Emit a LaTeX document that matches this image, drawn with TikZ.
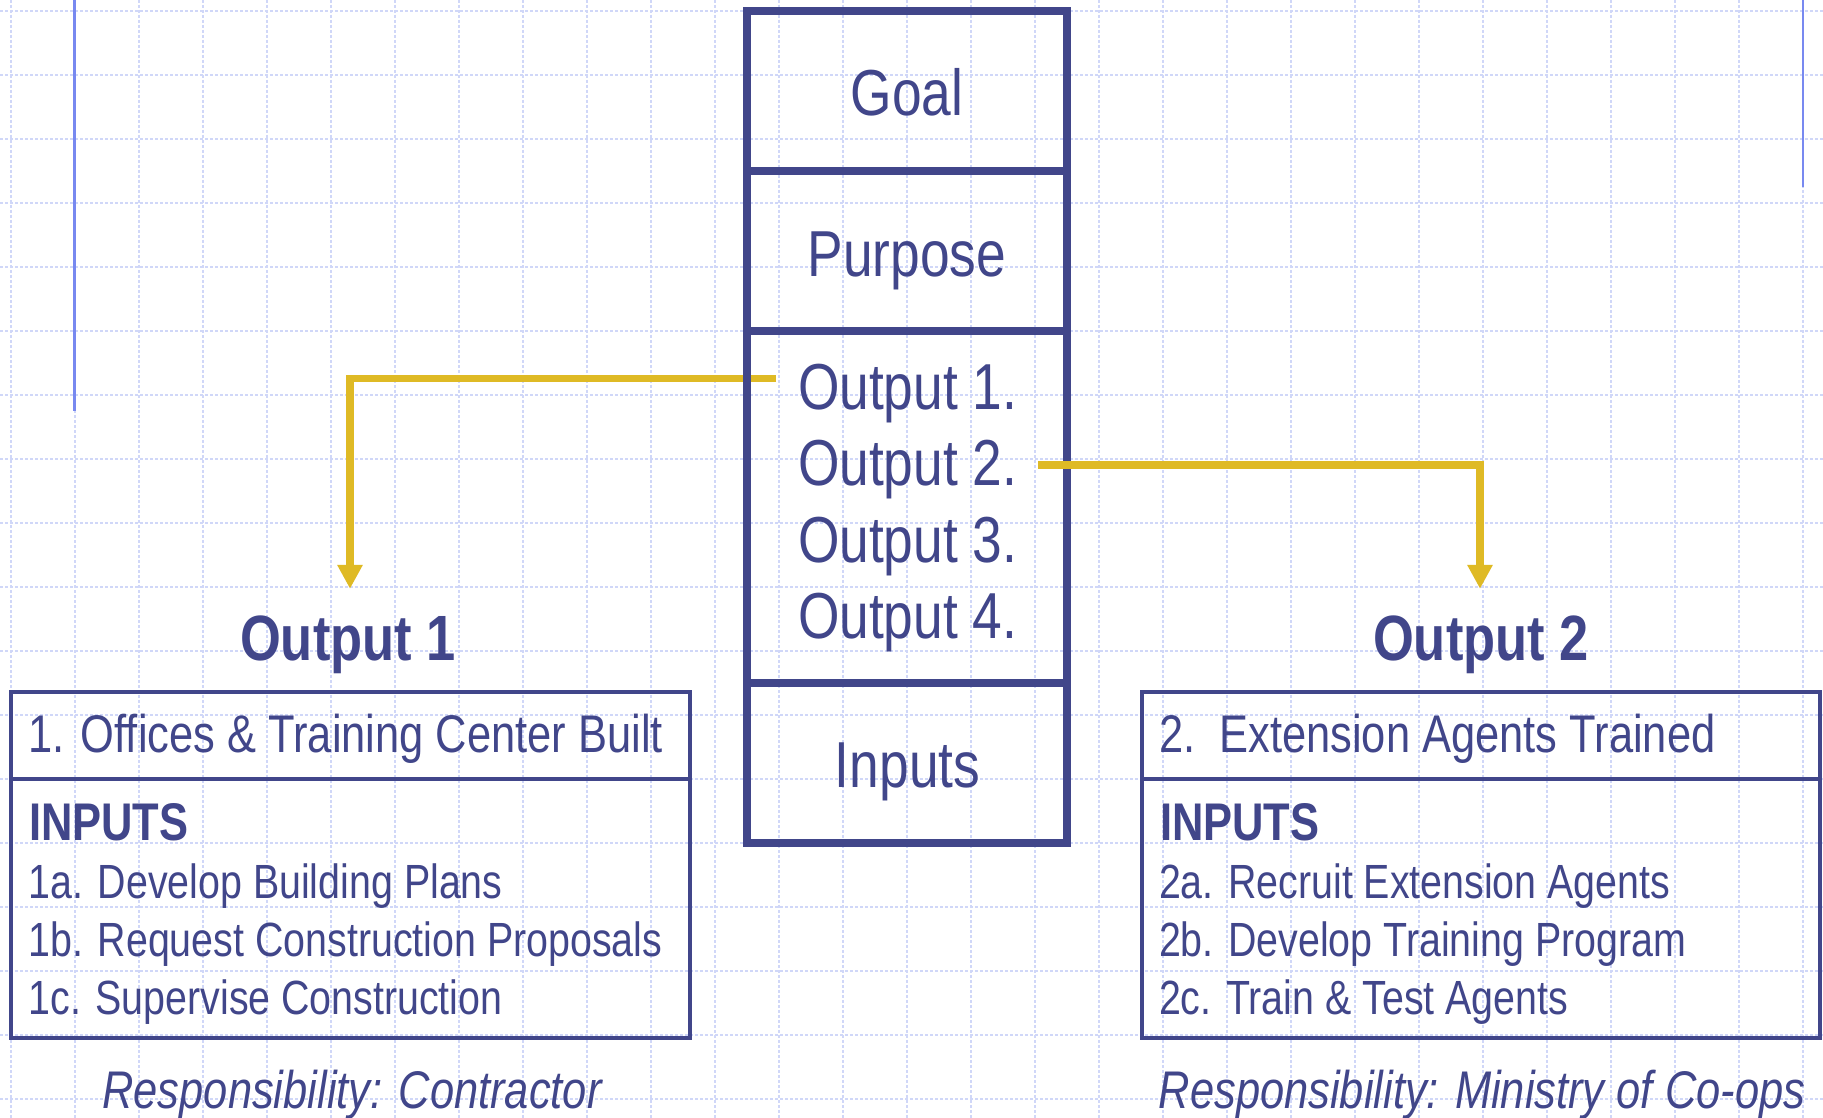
\documentclass[tikz,border=0pt]{standalone}
\usepackage{fontspec}
\setmainfont{Liberation Sans}[FakeStretch=0.82]
\usetikzlibrary{arrows.meta}
\definecolor{navy}{RGB}{65,70,138}
\definecolor{gold}{RGB}{223,186,37}
\definecolor{gridc}{RGB}{208,215,248}
\definecolor{blueln}{RGB}{120,137,240}
\newcommand\fsz[1]{\fontsize{#1}{#1}\selectfont}
\pgfdeclarelayer{gridlayer}
\pgfdeclarelayer{under}
\pgfsetlayers{gridlayer,under,main}
\begin{document}
\begin{tikzpicture}[x=1pt,y=-1pt,
  cell/.style={rectangle,draw=navy,line width=7.5pt,minimum width=320pt,inner sep=0pt,outer sep=0pt,anchor=north west},
  sidecell/.style={rectangle,draw=navy,line width=4pt,minimum width=679pt,inner sep=0pt,outer sep=0pt,anchor=north west},
  txt/.style={text=navy,inner sep=0pt,outer sep=0pt},
  bigtxt/.style={txt,font=\fsz{65}},
  headtxt/.style={txt,font=\fsz{64}\bfseries,anchor=base},
  boxhead/.style={txt,font=\fsz{53},anchor=base west},
  inputshead/.style={txt,font=\fsz{53}\bfseries,anchor=base west},
  item/.style={txt,font=\fsz{48},anchor=base west},
  resp/.style={txt,font=\fsz{53}\itshape,anchor=base},
  gridline/.style={draw=gridc,line width=1.1pt,dash pattern=on 3pt off 2pt},
  marginline/.style={draw=blueln,line width=2.4pt},
  conn/.style={draw=gold,line width=7.5pt,-{Triangle[width=24pt,length=24pt]}}
]
\useasboundingbox (0,0) rectangle (1823,1118);

% background grid
\begin{pgfonlayer}{gridlayer}
\fill[white] (0,0) rectangle (1823,1118);
\foreach \i in {0,...,28} \draw[gridline] ({11+64*\i},0) -- ({11+64*\i},1118);
\foreach \i in {0,...,17} \draw[gridline] (0,{11+64*\i}) -- (1823,{11+64*\i});
\draw[marginline] (74.5,0) -- (74.5,411);
\draw[marginline] (1803,0) -- (1803,187);
\end{pgfonlayer}

% central column
\node[cell,minimum height=160pt] (goal) at (747,11) {};
\node[cell,minimum height=160pt] (purpose) at (747,171) {};
\node[cell,minimum height=352pt] (outputs) at (747,331) {};
\node[cell,minimum height=160pt] (inputs) at (747,683) {};

\node[bigtxt,anchor=base] (goalt) at (907,116) {Goal};
\node[bigtxt,anchor=base] (purposet) at (907,276) {Purpose};
\node[bigtxt,anchor=base west] (o1) at (798,409) {Output 1.};
\node[bigtxt,anchor=base west] (o2) at (798,485) {Output 2.};
\node[bigtxt,anchor=base west] (o3) at (798,562) {Output 3.};
\node[bigtxt,anchor=base west] (o4) at (798,638) {Output 4.};
\node[bigtxt,anchor=base] (inputst) at (907.5,787) {Inputs};

% headings
\node[headtxt] (h1) at (348,660) {Output 1};
\node[headtxt] (h2) at (1481,660) {Output 2};

% left box
\node[sidecell,minimum height=86.5pt] (b1top) at (11,692) {};
\node[sidecell,minimum height=259.5pt] (b1bot) at (11,778.5) {};
\node[boxhead] (b1t) at (28.5,752) {1. Offices \& Training Center Built};
\node[inputshead] (b1in) at (29,840) {INPUTS};
\node[item] (b1a) at (28.5,898) {1a. Develop Building Plans};
\node[item] (b1b) at (28.5,956) {1b. Request Construction Proposals};
\node[item] (b1c) at (28.5,1014) {1c. Supervise Construction};
\node[resp] (r1) at (352,1108) {Responsibility: Contractor};

% right box
\node[sidecell,minimum width=678pt,minimum height=86.5pt] (b2top) at (1142,692) {};
\node[sidecell,minimum width=678pt,minimum height=259.5pt] (b2bot) at (1142,778.5) {};
\node[boxhead] (b2t) at (1159,752) {2.\ \ Extension Agents Trained};
\node[inputshead] (b2in) at (1160,840) {INPUTS};
\node[item] (b2a) at (1159,898) {2a. Recruit Extension Agents};
\node[item] (b2b) at (1159,956) {2b. Develop Training Program};
\node[item] (b2c) at (1159,1014) {2c. Train \& Test Agents};
\node[resp] (r2) at (1482,1108) {Responsibility: Ministry of Co-ops};

% connectors
\coordinate (s1) at (776,378.5);
\coordinate (s2) at (1038,465);
\begin{pgfonlayer}{under}
\draw[conn] (s1) -| ([xshift=2pt,yshift=26.5pt]h1.north);
\end{pgfonlayer}
\draw[conn] (s2) -| ([xshift=-1pt,yshift=26.5pt]h2.north);
\end{tikzpicture}
\end{document}
